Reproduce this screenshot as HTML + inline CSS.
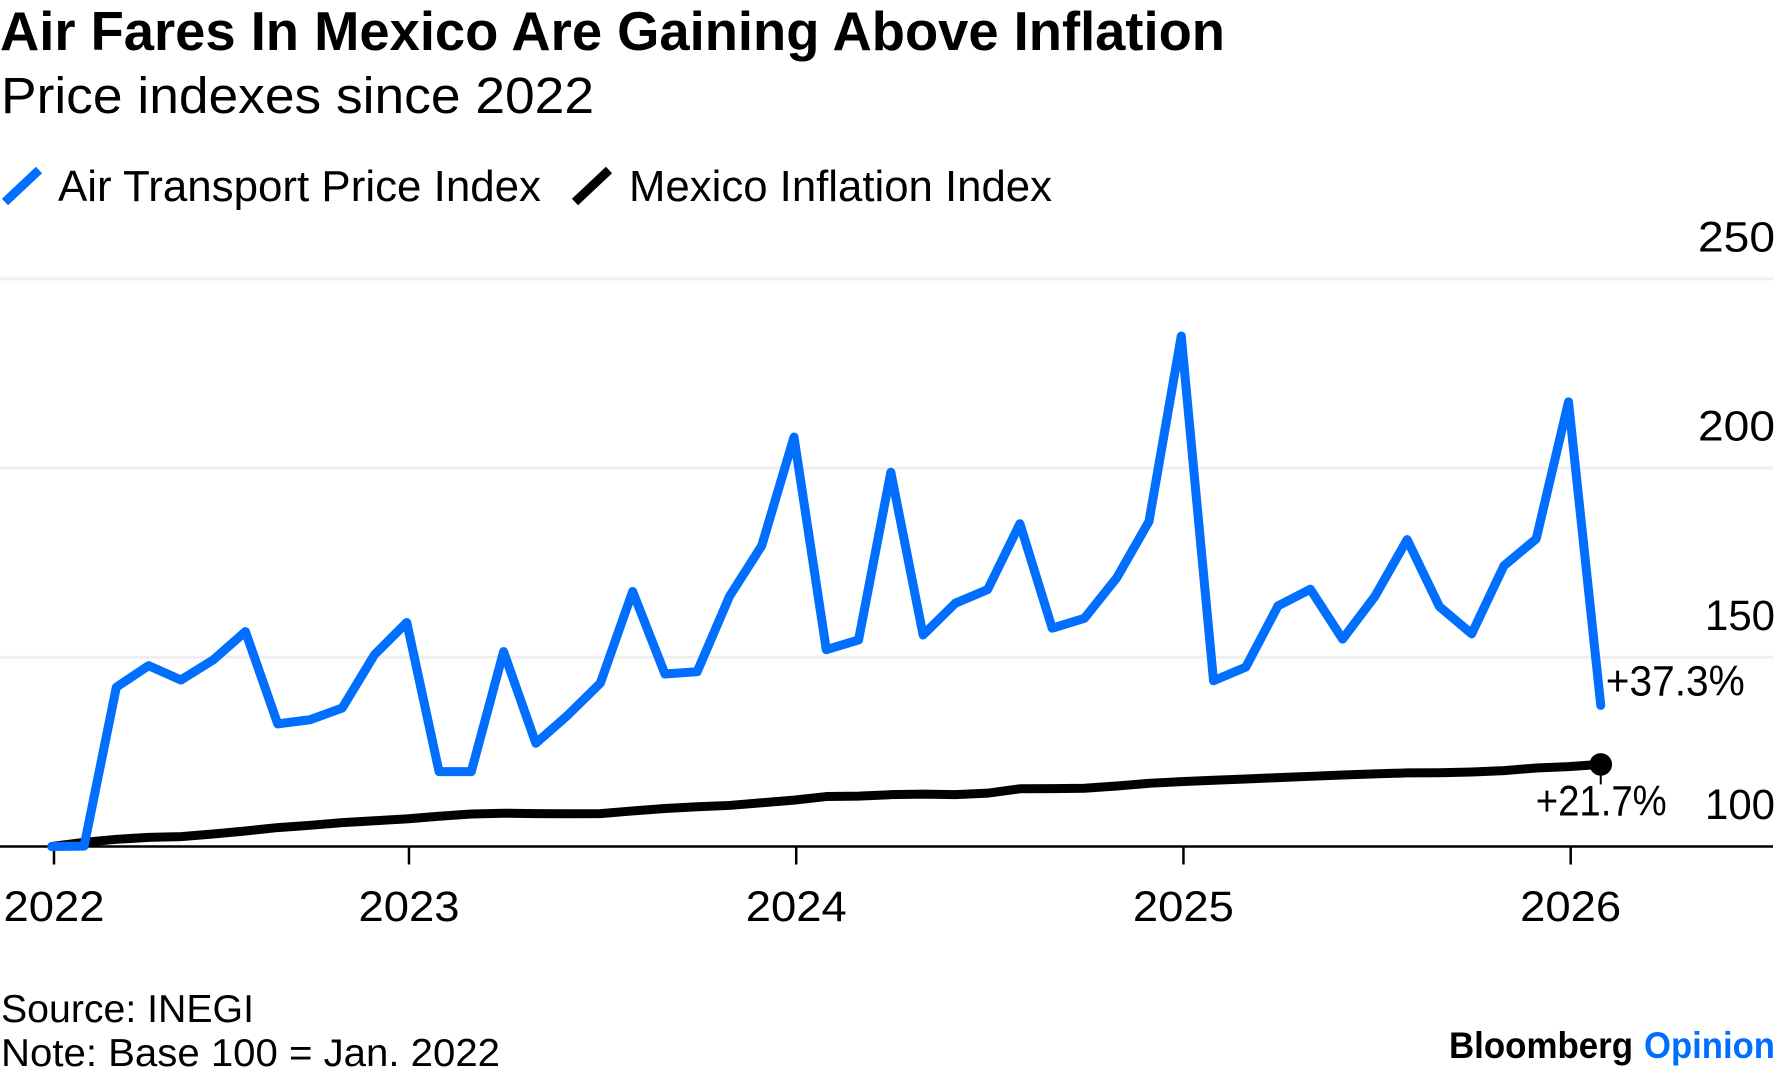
<!DOCTYPE html>
<html>
<head>
<meta charset="utf-8">
<title>Air Fares In Mexico Are Gaining Above Inflation</title>
<style>
html,body{margin:0;padding:0;background:#fff;}
svg{display:block;}
text{font-family:"Liberation Sans",sans-serif;fill:#000;}
</style>
</head>
<body>
<svg id="chart" xmlns="http://www.w3.org/2000/svg" width="1776" height="1077" viewBox="0 0 1776 1077">
  <text x="0" y="50" font-size="55" font-weight="700" textLength="1225" lengthAdjust="spacingAndGlyphs">Air Fares In Mexico Are Gaining Above Inflation</text>
  <text x="1" y="113" font-size="51" textLength="593" lengthAdjust="spacingAndGlyphs">Price indexes since 2022</text>

  <g>
    <line x1="5" y1="202" x2="39" y2="170" stroke="#006eff" stroke-width="9"/>
    <text x="58" y="201" font-size="44" textLength="483" lengthAdjust="spacingAndGlyphs">Air Transport Price Index</text>
    <line x1="575" y1="202" x2="609" y2="170" stroke="#000" stroke-width="9"/>
    <text x="629" y="201" font-size="44" textLength="423" lengthAdjust="spacingAndGlyphs">Mexico Inflation Index</text>
  </g>

  <g id="grid"></g>
  <g id="y-axis"></g>
  <g id="x-axis"></g>
  <g id="series"></g>
  <g id="annotations"></g>

  <text x="1" y="1022" font-size="39" textLength="253" lengthAdjust="spacingAndGlyphs">Source: INEGI</text>
  <text x="1" y="1066" font-size="39" textLength="499" lengthAdjust="spacingAndGlyphs">Note: Base 100 = Jan. 2022</text>

  <g>
    <text x="1449" y="1058" font-size="37" font-weight="700" textLength="184" lengthAdjust="spacingAndGlyphs">Bloomberg</text>
    <text x="1644" y="1058" font-size="37" font-weight="700" textLength="131" lengthAdjust="spacingAndGlyphs" style="fill:#006eff">Opinion</text>
  </g>
</svg>
<script>
const categories = ['2022-02','2022-03','2022-04','2022-05','2022-06','2022-07','2022-08','2022-09','2022-10','2022-11','2022-12','2023-01','2023-02','2023-03','2023-04','2023-05','2023-06','2023-07','2023-08','2023-09','2023-10','2023-11','2023-12','2024-01','2024-02','2024-03','2024-04','2024-05','2024-06','2024-07','2024-08','2024-09','2024-10','2024-11','2024-12','2025-01','2025-02','2025-03','2025-04','2025-05','2025-06','2025-07','2025-08','2025-09','2025-10','2025-11','2025-12','2026-01','2026-02'];
const airTransport = [100,100.1,142.1,147.8,144,149.3,156.8,132.4,133.5,136.6,150.7,159.2,119.8,119.8,151.5,127.3,134.8,143.2,167.4,145.6,146.2,166.1,179.5,208.2,152,154.6,198.9,155.9,164.3,167.9,185.3,157.7,160.3,171,185.9,234.9,143.8,147.4,163.6,168,154.8,166.1,181.1,163.4,156.2,174.2,181.3,217.5,137.3];
const mexicoInflation = [100,101.1,101.9,102.4,102.6,103.3,104.1,105,105.6,106.3,106.8,107.3,108,108.6,108.8,108.7,108.64,108.7,109.4,110.05,110.5,110.85,111.55,112.25,113.2,113.3,113.7,113.85,113.7,114.1,115.25,115.3,115.4,116,116.7,117.15,117.5,117.85,118.2,118.55,118.9,119.2,119.45,119.5,119.7,120.05,120.75,121.1,121.7];
const yTicks = [100,150,200,250];
const gridValues = [150,200,250];
const xTickCategories = ['2022-02','2023-01','2024-01','2025-01','2026-01'];
const xTickLabels = ['2022','2023','2024','2025','2026'];
const airEndLabel = '+37.3%';
const inflationEndLabel = '+21.7%';

const NS = 'http://www.w3.org/2000/svg';
const xScale = i => 51.8 + i * 32.27;
const tickX = i => xScale(i) + 2.2;
const yScale = v => 846.5 - (v - 100) * 3.784;
const make = (tag, parent) => { const el = document.createElementNS(NS, tag); parent.appendChild(el); return el; };
const gridG = document.getElementById('grid');
const yG = document.getElementById('y-axis');
const xG = document.getElementById('x-axis');
const seriesG = document.getElementById('series');
const annG = document.getElementById('annotations');

gridValues.forEach(v => {
  const l = make('line', gridG);
  
  
  l.setAttribute('x1', 0); l.setAttribute('x2', 1773);
  l.setAttribute('y1', yScale(v)); l.setAttribute('y2', yScale(v));
  l.setAttribute('stroke', '#efefef'); l.setAttribute('stroke-width', 3);
});

yTicks.forEach(v => {
  const t = make('text', yG);
  
  
  t.setAttribute('x', 1775); t.setAttribute('y', yScale(v) - 27.5);
  t.setAttribute('text-anchor', 'end'); t.setAttribute('font-size', 43);
  t.setAttribute('textLength', String(v).startsWith('1') ? 70 : 77);
  t.setAttribute('lengthAdjust', 'spacingAndGlyphs');
  t.textContent = String(v);
});

const baseline = make('line', xG);


baseline.setAttribute('x1', 0); baseline.setAttribute('x2', 1773);
baseline.setAttribute('y1', yScale(100)); baseline.setAttribute('y2', yScale(100));
baseline.setAttribute('stroke', '#000'); baseline.setAttribute('stroke-width', 2.5);

xTickCategories.forEach((c, k) => {
  const px = tickX(categories.indexOf(c));
  const tick = make('line', xG);
  
  
  tick.setAttribute('x1', px); tick.setAttribute('x2', px);
  tick.setAttribute('y1', yScale(100)); tick.setAttribute('y2', yScale(100) + 18);
  tick.setAttribute('stroke', '#000'); tick.setAttribute('stroke-width', 2.5);
  const t = make('text', xG);
  
  
  t.setAttribute('x', px); t.setAttribute('y', 921);
  t.setAttribute('text-anchor', 'middle'); t.setAttribute('font-size', 43);
  t.setAttribute('textLength', 101); t.setAttribute('lengthAdjust', 'spacingAndGlyphs');
  t.textContent = xTickLabels[k];
});

const pathFor = vals => vals.map((v, i) => (i ? 'L' : 'M') + xScale(i).toFixed(2) + ' ' + yScale(v).toFixed(2)).join(' ');

const inflationLine = make('path', seriesG);


inflationLine.setAttribute('d', pathFor(mexicoInflation));
inflationLine.setAttribute('fill', 'none'); inflationLine.setAttribute('stroke', '#000');
inflationLine.setAttribute('stroke-width', 9); inflationLine.setAttribute('stroke-linejoin', 'round'); inflationLine.setAttribute('stroke-linecap', 'round');

const airLine = make('path', seriesG);


airLine.setAttribute('d', pathFor(airTransport));
airLine.setAttribute('fill', 'none'); airLine.setAttribute('stroke', '#006eff');
airLine.setAttribute('stroke-width', 9); airLine.setAttribute('stroke-linejoin', 'round'); airLine.setAttribute('stroke-linecap', 'round');

const lastIndex = categories.length - 1;
const lastX = xScale(lastIndex);
const inflationY = yScale(mexicoInflation[lastIndex]);
const airY = yScale(airTransport[lastIndex]);

const leader = make('line', annG);


leader.setAttribute('x1', lastX); leader.setAttribute('x2', lastX);
leader.setAttribute('y1', inflationY); leader.setAttribute('y2', inflationY + 20);
leader.setAttribute('stroke', '#000'); leader.setAttribute('stroke-width', 2);

const dot = make('circle', annG);


dot.setAttribute('cx', lastX); dot.setAttribute('cy', inflationY); dot.setAttribute('r', 11.3);
dot.setAttribute('fill', '#000');

const airLabel = make('text', annG);


airLabel.setAttribute('x', lastX + 5); airLabel.setAttribute('y', airY - 10);
airLabel.setAttribute('font-size', 43);
airLabel.setAttribute('textLength', 139); airLabel.setAttribute('lengthAdjust', 'spacingAndGlyphs');
airLabel.textContent = airEndLabel;

const inflationLabel = make('text', annG);


inflationLabel.setAttribute('x', lastX - 65); inflationLabel.setAttribute('y', inflationY + 51);
inflationLabel.setAttribute('font-size', 43);
inflationLabel.setAttribute('textLength', 131); inflationLabel.setAttribute('lengthAdjust', 'spacingAndGlyphs');
inflationLabel.textContent = inflationEndLabel;
</script>
</body>
</html>
